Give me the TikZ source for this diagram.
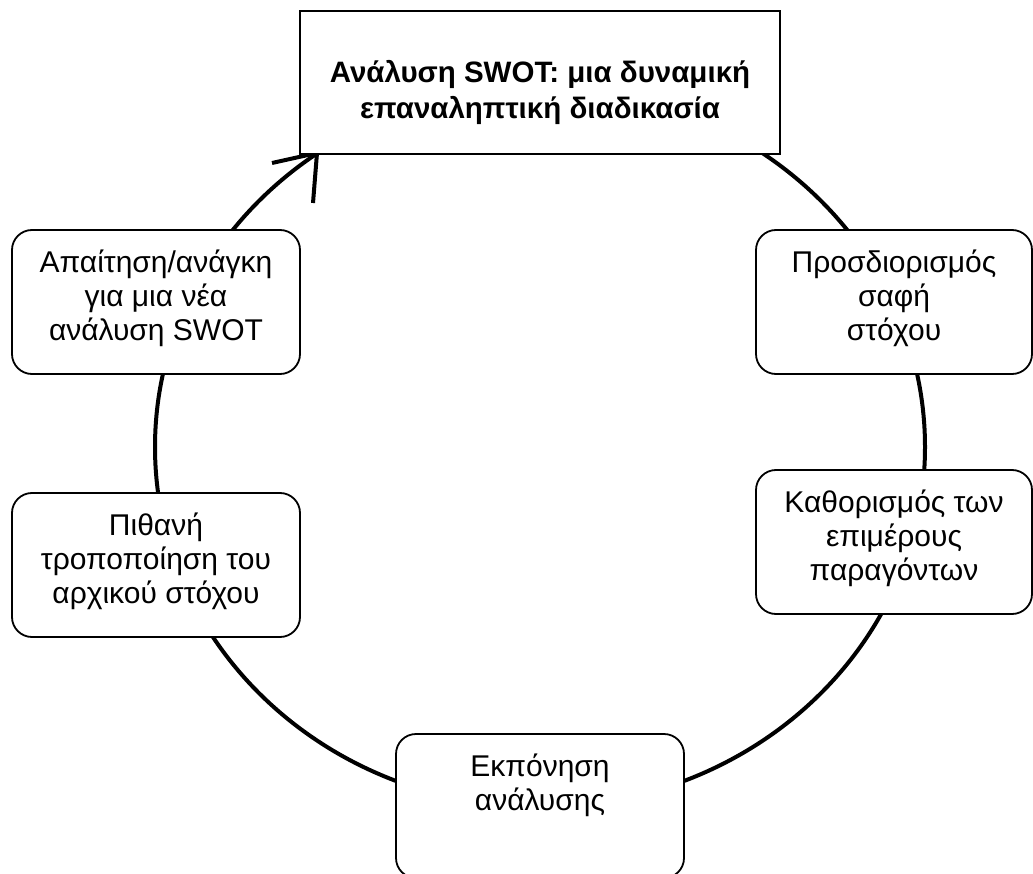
\documentclass[tikz,border=0pt]{standalone}
\usepackage{fontspec}
\setmainfont{Liberation Sans}
\begin{document}
\begin{tikzpicture}[x=1pt,y=-1pt,
  box/.style={draw, line width=1.8pt, rounded corners=20pt, fill=white, inner sep=0pt},
  titlebox/.style={draw, line width=1.8pt, fill=white, inner sep=0pt},
  lbl/.style={anchor=north, align=center, inner sep=0pt, font=\fontsize{30}{34}\selectfont},
  cycle/.style={line width=4pt},
]
\useasboundingbox (0,0) rectangle (1033,874);

% the cycle behind all the boxes
\draw[cycle] (540,447) ellipse [x radius=385pt, y radius=360pt];

% open arrowhead where the cycle meets the title box
\coordinate (tip) at (317,153);
\coordinate (barbA) at (272,163);
\coordinate (barbB) at (313,203);
\draw[cycle, line join=miter] (barbA) -- (tip) -- (barbB);

% title
\node[titlebox, minimum width=480pt, minimum height=143pt] (title) at (540,82.5) {};
\node[lbl, font=\fontsize{29.5}{36}\selectfont\bfseries] (titletext) at ([yshift=-50pt]title.north)
  {Ανάλυση SWOT: μια δυναμική\\επαναληπτική διαδικασία};

% steps of the cycle
\node[box, minimum width=276pt, minimum height=144pt] (r1) at (894,302) {};
\node[lbl] (r1text) at ([yshift=-21pt]r1.north) {Προσδιορισμός\\σαφή\\στόχου};

\node[box, minimum width=276pt, minimum height=144pt] (r2) at (894,542) {};
\node[lbl] (r2text) at ([yshift=-21pt]r2.north) {Καθορισμός των\\επιμέρους\\παραγόντων};

\node[box, minimum width=288pt, minimum height=144pt] (b) at (540,806) {};
\node[lbl] (btext) at ([yshift=-21pt]b.north) {Εκπόνηση\\ανάλυσης};

\node[box, minimum width=288pt, minimum height=144pt] (l2) at (156,565) {};
\node[lbl] (l2text) at ([yshift=-21pt]l2.north) {Πιθανή\\τροποποίηση του\\αρχικού στόχου};

\node[box, minimum width=288pt, minimum height=144pt] (l1) at (156,302) {};
\node[lbl] (l1text) at ([yshift=-21pt]l1.north) {Απαίτηση/ανάγκη\\για μια νέα\\ανάλυση SWOT};
\end{tikzpicture}
\end{document}
